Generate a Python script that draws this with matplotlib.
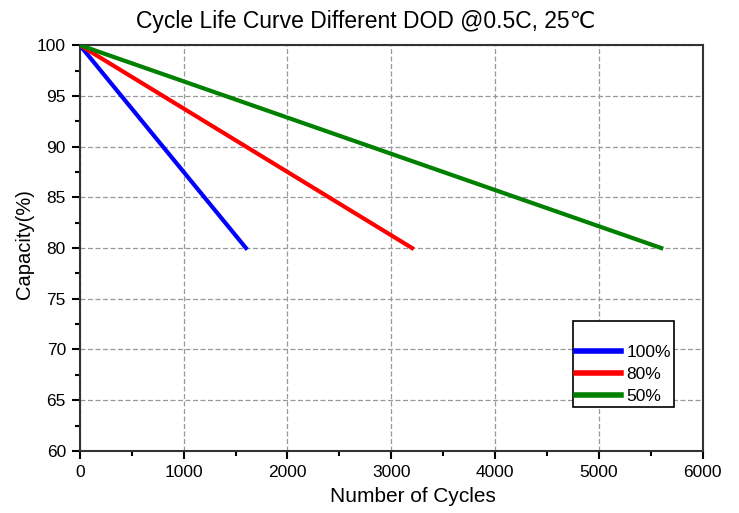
import matplotlib
matplotlib.use("Agg")
import matplotlib.pyplot as plt
from matplotlib.ticker import MultipleLocator

plt.rcParams["font.family"] = ["Liberation Sans", "DejaVu Sans"]

# data: capacity fade per depth of discharge (start and end points)
cycles_100 = [0, 1600]
cap_100 = [100, 80]
cycles_80 = [0, 3200]
cap_80 = [100, 80]
cycles_50 = [0, 5600]
cap_50 = [100, 80]

fig = plt.figure(figsize=(7.39, 5.13), dpi=100)
ax = fig.add_axes([0.108, 0.121, 0.843, 0.791])

ax.plot(cycles_100, cap_100, color="#0000ff", lw=3, label="100%", zorder=3)
ax.plot(cycles_80, cap_80, color="#ff0000", lw=3, label="80%", zorder=3)
ax.plot(cycles_50, cap_50, color="#008000", lw=3, label="50%", zorder=3)

ax.set_xlim(0, 6000)
ax.set_ylim(60, 100)
ax.xaxis.set_major_locator(MultipleLocator(1000))
ax.xaxis.set_minor_locator(MultipleLocator(500))
ax.yaxis.set_major_locator(MultipleLocator(5))
ax.yaxis.set_minor_locator(MultipleLocator(2.5))
ax.tick_params(which="major", direction="out", length=6, width=1.5,
               labelsize=12.5, pad=4)
ax.tick_params(which="minor", direction="out", length=3.5, width=1.5)
ax.tick_params(top=False, right=False)
for s in ax.spines.values():
    s.set_linewidth(1.5)
    s.set_color("#333333")

ax.grid(True, which="major", color="#999999", ls=(0, (4, 2)), lw=0.9)

ax.set_xlabel("Number of Cycles", fontsize=15, x=0.534, labelpad=5)
ax.set_ylabel("Capacity(%)", fontsize=14.5, y=0.51, labelpad=2)
fig.text(0.495, 0.958, "Cycle Life Curve Different DOD @0.5C, 25℃",
         fontsize=16.5, ha="center", va="center")

leg = ax.legend(loc="lower left", bbox_to_anchor=(0.791, 0.108), title=" ",
                title_fontsize=10, fancybox=False, framealpha=1,
                edgecolor="black", fontsize=12.5, handlelength=2.6,
                handletextpad=0.3, labelspacing=0.38, borderpad=0.2,
                borderaxespad=0)
leg.get_frame().set_linewidth(1.2)
for line in leg.get_lines():
    line.set_linewidth(4)

fig.savefig("out.png", dpi=100)
